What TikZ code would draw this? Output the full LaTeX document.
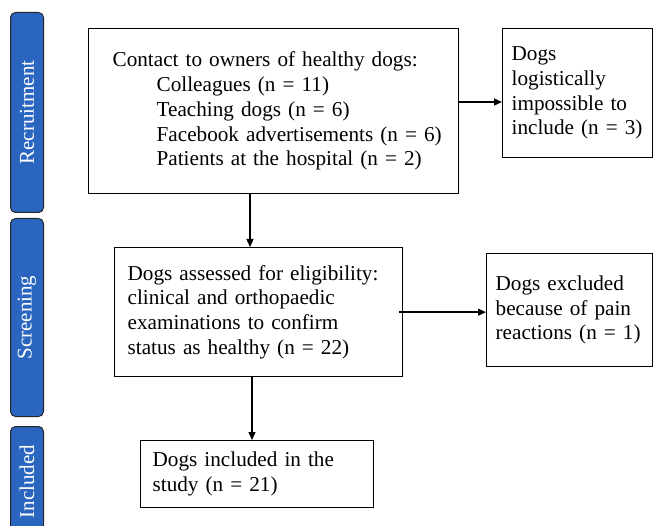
\documentclass[tikz,border=0pt]{standalone}
\usepackage{fontspec}
\setmainfont{Liberation Serif}
\usetikzlibrary{arrows.meta}
\definecolor{barblue}{RGB}{42,102,192}
\begin{document}
\begin{tikzpicture}[x=1pt,y=-1pt,
  every node/.style={font=\fontsize{21.2}{24.7}\selectfont},
  box/.style={draw, line width=1.3pt, anchor=north west, align=left, inner ysep=0pt},
  bar/.style={draw=black!85, line width=1pt, fill=barblue, rounded corners=5pt, anchor=north west,
    minimum width=33pt, inner sep=0pt},
  bartext/.style={text=white, rotate=90, font=\fontsize{21}{24}\selectfont},
  arr/.style={line width=1.3pt, -{Triangle[length=8pt,width=7pt]}}]
\useasboundingbox (0,0) rectangle (653,526);
\fill[white] (0,0) rectangle (653,526);

% phase bars
\node[bar, minimum height=200pt] (recbar) at (10,12) {};
\node[bartext] (rectext) at (recbar.center) {Recruitment};
\node[bar, minimum height=198pt] (scrbar) at (10,218) {};
\node[bartext] (scrtext) at (scrbar.center) {Screening};
\node[bar, minimum height=110pt] (incbar) at (10,426) {};
\node[bartext] (inctext) at (incbar.center) {Included};

% boxes
\node[box, minimum width=370pt, minimum height=165pt, text width=322pt, inner xsep=24pt] (box1) at (88,28)
  {\mbox{Contact to owners of healthy dogs:}\\
   \mbox{\hspace*{44pt}Colleagues (n = 11)}\\
   \mbox{\hspace*{44pt}Teaching dogs (n = 6)}\\
   \mbox{\hspace*{44pt}Facebook advertisements (n = 6)}\\
   \mbox{\hspace*{44pt}Patients at the hospital (n = 2)}};
\node[box, minimum width=150pt, minimum height=129pt, text width=132pt, inner xsep=9pt] (rbox1) at (502,28)
  {\mbox{Dogs}\\ \mbox{logistically}\\ \mbox{impossible to}\\ \mbox{include (n = 3)}};
\node[box, minimum width=288pt, minimum height=129pt, text width=262pt, inner xsep=13pt] (box2) at (114,247)
  {\mbox{Dogs assessed for eligibility:}\\ \mbox{clinical and orthopaedic}\\ \mbox{examinations to confirm}\\ \mbox{status as healthy (n = 22)}};
\node[box, minimum width=166pt, minimum height=113pt, text width=148pt, inner xsep=9pt] (rbox2) at (486,253)
  {\mbox{Dogs excluded}\\ \mbox{because of pain}\\ \mbox{reactions (n = 1)}};
\node[box, minimum width=233pt, minimum height=67pt, text width=209pt, inner xsep=12pt] (box3) at (140,440)
  {\mbox{Dogs included in the}\\ \mbox{study (n = 21)}};

% connectors
\draw[arr] (box1.south -| 250,0) -- (box2.north -| 250,0);
\draw[arr] (box2.south -| 252,0) -- (box3.north -| 252,0);
\draw[arr] (box1.east |- 0,102) -- (rbox1.west |- 0,102);
\draw[arr] ([xshift=-4pt]box2.east) -- (rbox2.west |- box2.east);
\end{tikzpicture}
\end{document}
